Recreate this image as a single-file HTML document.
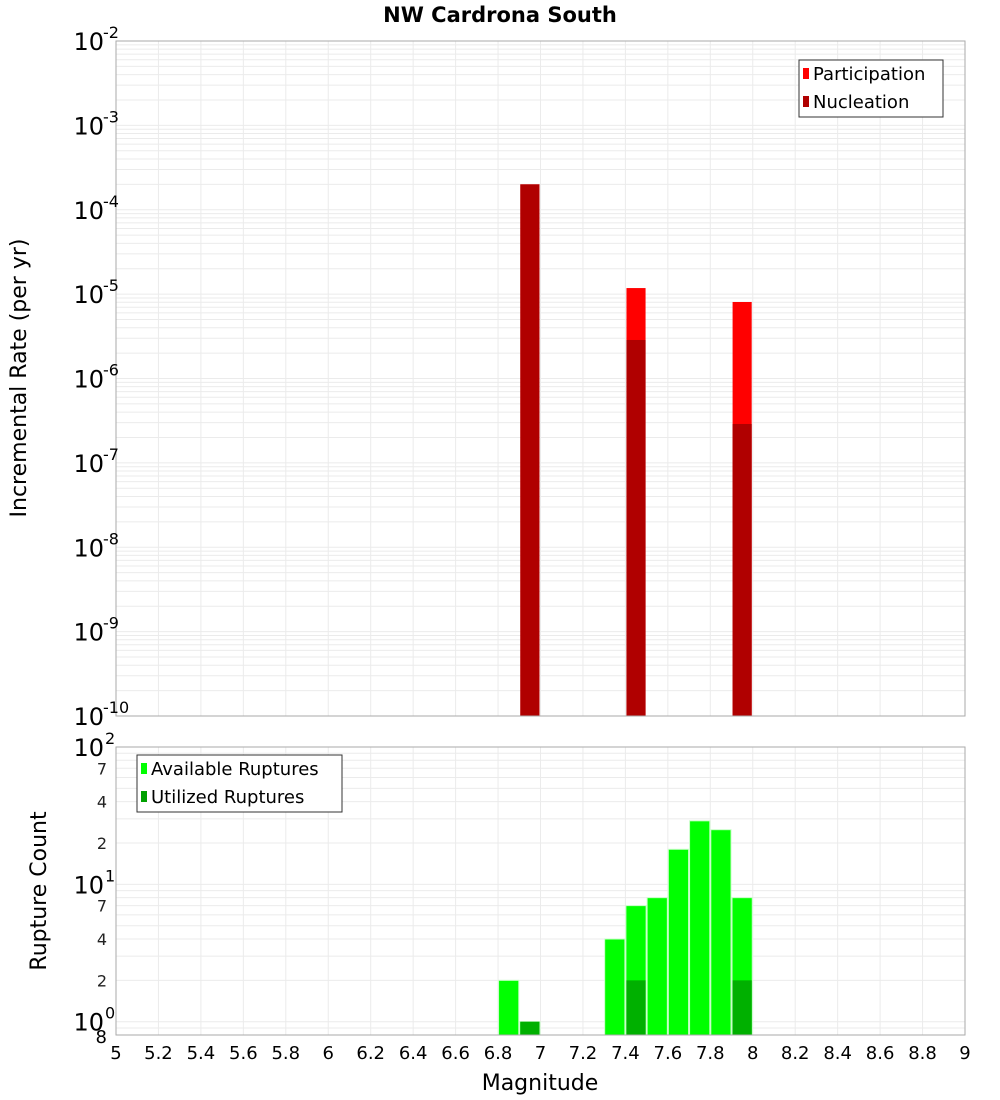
<!DOCTYPE html>
<html><head><meta charset="utf-8">
<style>
html,body{margin:0;padding:0;background:#fff;}
svg{display:block;font-family:"DejaVu Sans","Liberation Sans",sans-serif;}
</style></head>
<body>
<svg id="chart" width="1000" height="1100" viewBox="0 0 1000 1100" xmlns="http://www.w3.org/2000/svg">
<text x="500" y="22" text-anchor="middle" font-size="21" font-weight="bold">NW Cardrona South</text>
<g id="topPanel"></g>
<g id="botPanel"></g>
<text transform="translate(26,378) rotate(-90)" text-anchor="middle" font-size="22">Incremental Rate (per yr)</text>
<text transform="translate(46,891) rotate(-90)" text-anchor="middle" font-size="22">Rupture Count</text>
<text x="540" y="1090" text-anchor="middle" font-size="22">Magnitude</text>
</svg>
<script>
// Rate panel data
const rateMags = [6.95, 7.45, 7.95];
const participation = [2.0e-4, 1.18e-5, 8.07e-6];
const nucleation = [2.0e-4, 2.86e-6, 2.89e-7];
// Count panel data
const countMags = [6.85, 6.95, 7.35, 7.45, 7.55, 7.65, 7.75, 7.85, 7.95];
const available = [2, 1, 4, 7, 8, 18, 29, 25, 8];
const utilized = [0, 1, 0, 2, 0, 0, 0, 0, 2];
const xTicks = ["5","5.2","5.4","5.6","5.8","6","6.2","6.4","6.6","6.8","7","7.2","7.4","7.6","7.8","8","8.2","8.4","8.6","8.8","9"];
const topDecades = [-2,-3,-4,-5,-6,-7,-8,-9,-10];
const botMinorLabels = ["2","4","7"];

const NS="http://www.w3.org/2000/svg";
const X0=116,X1=965,MMIN=5,MMAX=9;
const xs=m=>X0+(m-MMIN)/(MMAX-MMIN)*(X1-X0);
const TY0=41,TY1=716,TLMAX=-2,TLMIN=-10;
const ty=v=>TY0+(TLMAX-Math.log10(v))/(TLMAX-TLMIN)*(TY1-TY0);
const BY0=747,BY1=1035,BLMAX=2,BLMIN=Math.log10(0.8);
const by=v=>BY0+(BLMAX-Math.log10(v))/(BLMAX-BLMIN)*(BY1-BY0);
function el(p,t,a){const e=document.createElementNS(NS,t);for(const k in a)e.setAttribute(k,a[k]);p.appendChild(e);return e;}
const topG=document.getElementById('topPanel'),botG=document.getElementById('botPanel'),svgEl=document.getElementById('chart');

function grid(g,y0,y1,yfun,lmin,lmax){
  for(let d=Math.floor(lmin);d<=lmax;d++){for(let k=1;k<10;k++){const v=k*Math.pow(10,d);const lv=Math.log10(v);if(lv<lmin-1e-9||lv>lmax+1e-9)continue;
    const y=yfun(v);const l=el(g,'line',{x1:X0,x2:X1,y1:y,y2:y,stroke:'#ebebeb','stroke-width':1});
    
    }}
  for(let i=0;i<xTicks.length;i++){const x=xs(parseFloat(xTicks[i]));const l=el(g,'line',{x1:x,x2:x,y1:y0,y2:y1,stroke:'#ebebeb','stroke-width':1});
    
    }
}
grid(topG,TY0,TY1,ty,TLMIN,TLMAX);
grid(botG,BY0,BY1,by,BLMIN,BLMAX);

const bw=0.09;
rateMags.forEach((m,i)=>{
  const x=xs(m-bw/2),w=xs(m+bw/2)-xs(m-bw/2);
  const p=el(topG,'rect',{x:x,y:ty(participation[i]),width:w,height:TY1-ty(participation[i]),fill:'#ff0000'});
  
  
  const n=el(topG,'rect',{x:x,y:ty(nucleation[i]),width:w,height:TY1-ty(nucleation[i]),fill:'#b00000'});
  
  
});
countMags.forEach((m,i)=>{
  const x=xs(m-0.05)+0.5,w=xs(m+0.05)-xs(m-0.05)-1;
  if(available[i]>0){const a=el(botG,'rect',{x:x,y:by(available[i]),width:w,height:BY1-by(available[i]),fill:'#00ff00',stroke:'#c8ffc8','stroke-width':1});
    
    }
  if(utilized[i]>0){const u=el(botG,'rect',{x:x+0.5,y:by(utilized[i]),width:w-1,height:BY1-by(utilized[i])-0.5,fill:'#00b000'});
    
    }
});
const f1=el(topG,'rect',{x:X0,y:TY0,width:X1-X0,height:TY1-TY0,fill:'none',stroke:'#aaa','stroke-width':1});


const f2=el(botG,'rect',{x:X0,y:BY0,width:X1-X0,height:BY1-BY0,fill:'none',stroke:'#aaa','stroke-width':1});



topDecades.forEach(d=>{
  const y=ty(Math.pow(10,d));
  const t=el(topG,'text',{x:104,y:y+9,'text-anchor':'end','font-size':24});
  
  
  t.textContent='10';
  const s=el(topG,'text',{x:103,y:y-3,'font-size':16});
  
  
  s.textContent=String(d);
});
[2,1,0].forEach(d=>{
  const y=by(Math.pow(10,d));
  const t=el(botG,'text',{x:104,y:y+9,'text-anchor':'end','font-size':24});
  
  
  t.textContent='10';
  const s=el(botG,'text',{x:105,y:y-3,'font-size':16});
  
  
  s.textContent=String(d);
  if(d>0){botMinorLabels.forEach(lb=>{const v=parseFloat(lb)*Math.pow(10,d-1);const yy=by(v);
    const m=el(botG,'text',{x:107,y:yy+6,'text-anchor':'end','font-size':16,fill:'#222'});
    
    
    m.textContent=lb;});}
});
const e8=el(botG,'text',{x:107,y:by(0.8)+8,'text-anchor':'end','font-size':18});


e8.textContent='8';
xTicks.forEach(lb=>{
  const t=el(svgEl,'text',{x:xs(parseFloat(lb)),y:1059,'text-anchor':'middle','font-size':18});
  
  
  t.textContent=lb;
});
function legend(g,x,y,w,h,items,name){
  const lg=el(g,'g',{});
  
  
  el(lg,'rect',{x:x,y:y,width:w,height:h,fill:'#fff',stroke:'#333','stroke-width':1});
  items.forEach((it,i)=>{
    const yy=y+13+i*28;
    el(lg,'rect',{x:x+4,y:yy-5,width:6,height:11,fill:it[1]});
    const t=el(lg,'text',{x:x+14,y:yy+7,'font-size':18});
    
    
    t.textContent=it[0];
  });
}
legend(topG,799,60,144,57,[["Participation","#ff0000"],["Nucleation","#b00000"]],'rate-legend');
legend(botG,137,755,205,57,[["Available Ruptures","#00ff00"],["Utilized Ruptures","#00a000"]],'count-legend');
</script>
</body></html>
